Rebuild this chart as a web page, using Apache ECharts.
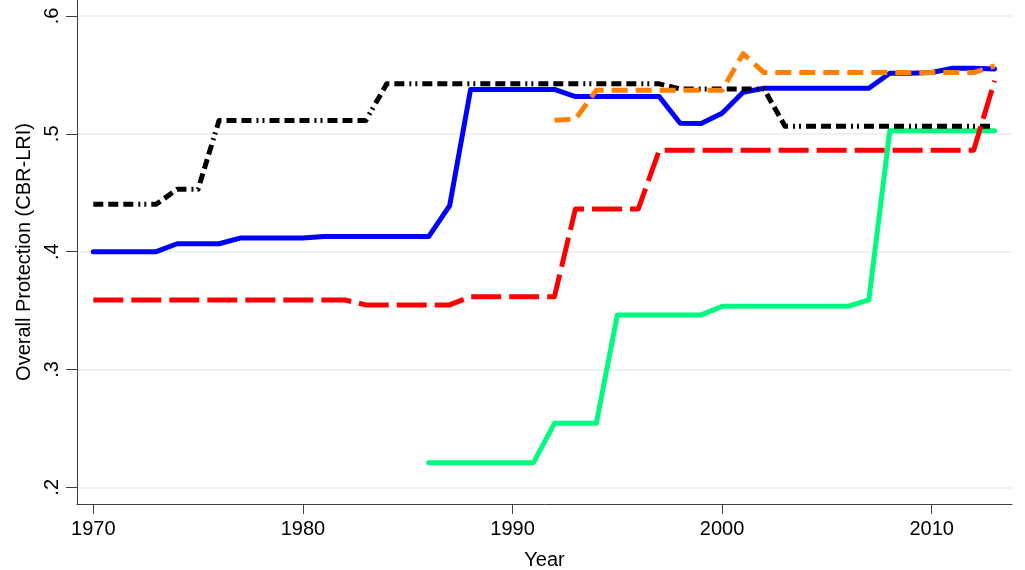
<!DOCTYPE html>
<html>
<head>
<meta charset="utf-8">
<script src="https://cdn.jsdelivr.net/npm/echarts@6/dist/echarts.min.js"></script>
<style>
html,body{margin:0;padding:0;background:#fff;}
#chart{width:1025px;height:570px;}
</style>
</head>
<body>
<div id="chart"></div>
<script>
var years = [];
for (var y = 1970; y <= 2013; y++) years.push(y);

var blueValues = [0.400,0.400,0.400,0.400,0.4067,0.4067,0.4067,0.4115,0.4115,0.4115,0.4115,0.4128,0.4128,0.4128,0.4128,0.4128,0.4128,0.439,0.5377,0.5377,0.5377,0.5377,0.5377,0.5316,0.5316,0.5316,0.5316,0.5316,0.509,0.5087,0.5175,0.5353,0.5387,0.5387,0.5387,0.5387,0.5387,0.5387,0.5514,0.5514,0.552,0.5557,0.5557,0.555];
var blackValues = [0.4402,0.4402,0.4402,0.4402,0.453,0.453,0.5114,0.5114,0.5114,0.5114,0.5114,0.5114,0.5114,0.5114,0.5424,0.5424,0.5424,0.5424,0.5424,0.5424,0.5424,0.5424,0.5424,0.5424,0.5424,0.5424,0.5424,0.5424,0.538,0.538,0.538,0.538,0.538,0.5065,0.5065,0.5065,0.5065,0.5065,0.5065,0.5065,0.5065,0.5065,0.5065,0.5065];
var redValues = [0.359,0.359,0.359,0.359,0.359,0.359,0.359,0.359,0.359,0.359,0.359,0.359,0.359,0.3548,0.3548,0.3548,0.3548,0.3548,0.3618,0.3618,0.3618,0.3618,0.3618,0.4362,0.4362,0.4362,0.4362,0.486,0.486,0.486,0.486,0.486,0.486,0.486,0.486,0.486,0.486,0.486,0.486,0.486,0.486,0.486,0.486,0.545];
var orangeValues = [null,null,null,null,null,null,null,null,null,null,null,null,null,null,null,null,null,null,null,null,null,null,0.5115,0.5125,0.537,0.537,0.537,0.537,0.537,0.537,0.537,0.568,0.552,0.552,0.552,0.552,0.552,0.552,0.552,0.552,0.552,0.552,0.552,0.5576];
var greenValues = [null,null,null,null,null,null,null,null,null,null,null,null,null,null,null,null,0.2209,0.2209,0.2209,0.2209,0.2209,0.2209,0.2543,0.2543,0.2543,0.3463,0.3463,0.3463,0.3463,0.3463,0.3536,0.3536,0.3536,0.3536,0.3536,0.3536,0.3536,0.359,0.5027,0.5027,0.5027,0.5027,0.5027,0.5027];

var xTicks = [1970, 1980, 1990, 2000, 2010];
var yTicks = [0.2, 0.3, 0.4, 0.5, 0.6];
var yTickLabels = ['.2', '.3', '.4', '.5', '.6'];

function pairs(vals) {
  var out = [];
  for (var i = 0; i < years.length; i++) {
    if (vals[i] !== null) out.push([years[i], vals[i]]);
  }
  return out;
}

var FONT = 'Liberation Sans, Arial, sans-serif';
var chart = echarts.init(document.getElementById('chart'), null, {renderer: 'canvas'});

function lineSeries(name, vals, color, type, cap, z) {
  return {
    name: name,
    type: 'line',
    data: pairs(vals),
    showSymbol: false,
    symbol: 'none',
    z: z,
    animation: false,
    lineStyle: {color: color, width: 5, type: type, cap: cap, join: 'round'}
  };
}

chart.setOption({
  animation: false,
  backgroundColor: '#fff',
  grid: {left: 77, right: 13, top: 0, bottom: 66, containLabel: false, outerBoundsMode: 'none'},
  xAxis: {
    type: 'value',
    min: 1969.222,
    max: 2013.83,
    name: 'Year',
    nameLocation: 'middle',
    nameGap: 46,
    nameTextStyle: {fontFamily: FONT, fontSize: 20, color: '#000'},
    axisLine: {show: true, lineStyle: {color: '#404040', width: 1}},
    axisTick: {show: true, length: 10, customValues: xTicks, lineStyle: {color: '#404040'}},
    axisLabel: {show: true, customValues: xTicks, margin: 15, fontFamily: FONT, fontSize: 20, color: '#000',
      formatter: function (v) { return String(v); }},
    splitLine: {show: false}
  },
  yAxis: {
    type: 'value',
    min: 0.18582,
    max: 0.61358,
    name: 'Overall Protection (CBR-LRI)',
    nameLocation: 'middle',
    nameGap: 39,
    nameTextStyle: {fontFamily: FONT, fontSize: 20, color: '#000'},
    axisLine: {show: true, lineStyle: {color: '#404040', width: 1}},
    axisTick: {show: true, length: 11, customValues: yTicks, lineStyle: {color: '#404040'}},
    axisLabel: {show: true, customValues: yTicks, rotate: 90, margin: 15, fontFamily: FONT, fontSize: 20, color: '#000',
      formatter: function (v) {
        var idx = yTicks.findIndex(function (t) { return Math.abs(t - v) < 1e-6; });
        return idx >= 0 ? yTickLabels[idx] : '';
      }},
    splitLine: {show: true, lineStyle: {color: '#eaf2f3', width: 2}}
  },
  series: [
    lineSeries('Green', greenValues, '#00f97f', 'solid', 'round', 2),
    lineSeries('Blue', blueValues, '#0000ff', 'solid', 'round', 3),
    lineSeries('Black', blackValues, '#000000', [10, 5, 10, 5, 10, 5, 2, 4, 2, 5], 'butt', 4),
    lineSeries('Orange', orangeValues, '#ff8000', [16, 8], 'butt', 5),
    lineSeries('Red', redValues, '#ff0000', [30, 8], 'butt', 6)
  ]
});
</script>
</body>
</html>
